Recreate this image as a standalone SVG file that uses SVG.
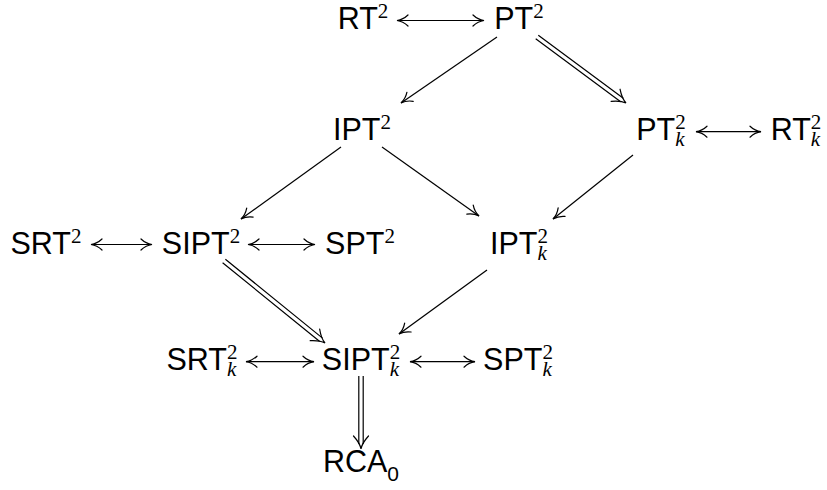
<svg xmlns="http://www.w3.org/2000/svg" width="827" height="490" viewBox="0 0 827 490">
  <style>
    .t { font-family: "Liberation Sans", Arial, sans-serif; font-size: 30.5px; fill: #000; text-anchor: middle; }
    .s { font-family: "Liberation Serif", "Times New Roman", serif; font-size: 21px; }
    .k { font-family: "Liberation Serif", "Times New Roman", serif; font-size: 21px; font-style: italic; }
    .z { font-size: 21px; }
    .ar { fill: none; stroke: #000; stroke-width: 1.2; }
    .one { marker-end: url(#to); }
    .two { marker-start: url(#to); marker-end: url(#to); }
  </style>
  <defs>
    <marker id="to" markerUnits="userSpaceOnUse" viewBox="-13 -7 15 14" refX="0" refY="0" markerWidth="15" markerHeight="14" orient="auto-start-reverse" overflow="visible">
      <path d="M -11,-5.5 C -7.5,-2.2 -3,-0.4 0,0 C -3,0.4 -7.5,2.2 -11,5.5" fill="none" stroke="#000" stroke-width="1.2" stroke-linecap="round"/>
    </marker>
  </defs>

  <!-- nodes: main label in sans, scripts in serif -->
  <g id="RT2"><text class="t" x="363" y="29">RT<tspan class="s" dy="-11">2</tspan></text></g>
  <g id="PT2"><text class="t" x="519" y="29">PT<tspan class="s" dy="-11">2</tspan></text></g>
  <g id="IPT2"><text class="t" x="362" y="140">IPT<tspan class="s" dy="-11">2</tspan></text></g>
  <g id="PTk2"><text class="t" x="661" y="140">PT<tspan class="s" dy="-11">2</tspan><tspan class="k" dx="-10.5" dy="17">k</tspan></text></g>
  <g id="RTk2"><text class="t" x="796" y="140">RT<tspan class="s" dy="-11">2</tspan><tspan class="k" dx="-10.5" dy="17">k</tspan></text></g>
  <g id="SRT2"><text class="t" x="46" y="254">SRT<tspan class="s" dy="-11">2</tspan></text></g>
  <g id="SIPT2"><text class="t" x="201" y="254">SIPT<tspan class="s" dy="-11">2</tspan></text></g>
  <g id="SPT2"><text class="t" x="360" y="254">SPT<tspan class="s" dy="-11">2</tspan></text></g>
  <g id="IPTk2"><text class="t" x="519" y="254">IPT<tspan class="s" dy="-11">2</tspan><tspan class="k" dx="-10.5" dy="17">k</tspan></text></g>
  <g id="SRTk2"><text class="t" x="202" y="370">SRT<tspan class="s" dy="-11">2</tspan><tspan class="k" dx="-10.5" dy="17">k</tspan></text></g>
  <g id="SIPTk2"><text class="t" x="361" y="370">SIPT<tspan class="s" dy="-11">2</tspan><tspan class="k" dx="-10.5" dy="17">k</tspan></text></g>
  <g id="SPTk2"><text class="t" x="518" y="370">SPT<tspan class="s" dy="-11">2</tspan><tspan class="k" dx="-10.5" dy="17">k</tspan></text></g>
  <g id="RCA0"><text class="t" x="361" y="472">RCA<tspan class="z" dy="9">0</tspan></text></g>

  <!-- connectors -->
  <g id="connectors">
    <!-- equivalences -->
    <line class="ar two" x1="397" y1="20.5" x2="484" y2="20.5"/>
    <line class="ar two" x1="696" y1="131.7" x2="761" y2="131.7"/>
    <line class="ar two" x1="91" y1="244.5" x2="152" y2="244.5"/>
    <line class="ar two" x1="248" y1="244.5" x2="315" y2="244.5"/>
    <line class="ar two" x1="246" y1="361.7" x2="314" y2="361.7"/>
    <line class="ar two" x1="410" y1="361.7" x2="475" y2="361.7"/>

    <!-- implications -->
    <line class="ar one" x1="497" y1="37" x2="401" y2="103"/>
    <line class="ar one" x1="341" y1="147" x2="241" y2="219"/>
    <line class="ar one" x1="382" y1="147" x2="479" y2="216"/>
    <line class="ar one" x1="633" y1="155" x2="553" y2="219"/>
    <line class="ar one" x1="487" y1="270" x2="399" y2="334"/>

    <!-- strict implications (double arrows) -->
    <g transform="translate(537 37) rotate(36.56)">
      <path class="ar" d="M 0,-2.2 H 105.8 M 0,2.2 H 105.8"/>
      <path class="ar" d="M 97.8,-7.5 C 102.8,-3 107.8,-0.5 110.8,0 C 107.8,0.5 102.8,3 97.8,7.5" stroke-linecap="round"/>
    </g>
    <g transform="translate(224 261) rotate(39.07)">
      <path class="ar" d="M 0,-2.2 H 125.1 M 0,2.2 H 125.1"/>
      <path class="ar" d="M 117.1,-7.5 C 122.1,-3 127.1,-0.5 130.1,0 C 127.1,0.5 122.1,3 117.1,7.5" stroke-linecap="round"/>
    </g>
    <g transform="translate(361 376) rotate(90)">
      <path class="ar" d="M 0,-2.2 H 68 M 0,2.2 H 68"/>
      <path class="ar" d="M 60,-7.5 C 65,-3 70,-0.5 73,0 C 70,0.5 65,3 60,7.5" stroke-linecap="round"/>
    </g>
  </g>
</svg>
